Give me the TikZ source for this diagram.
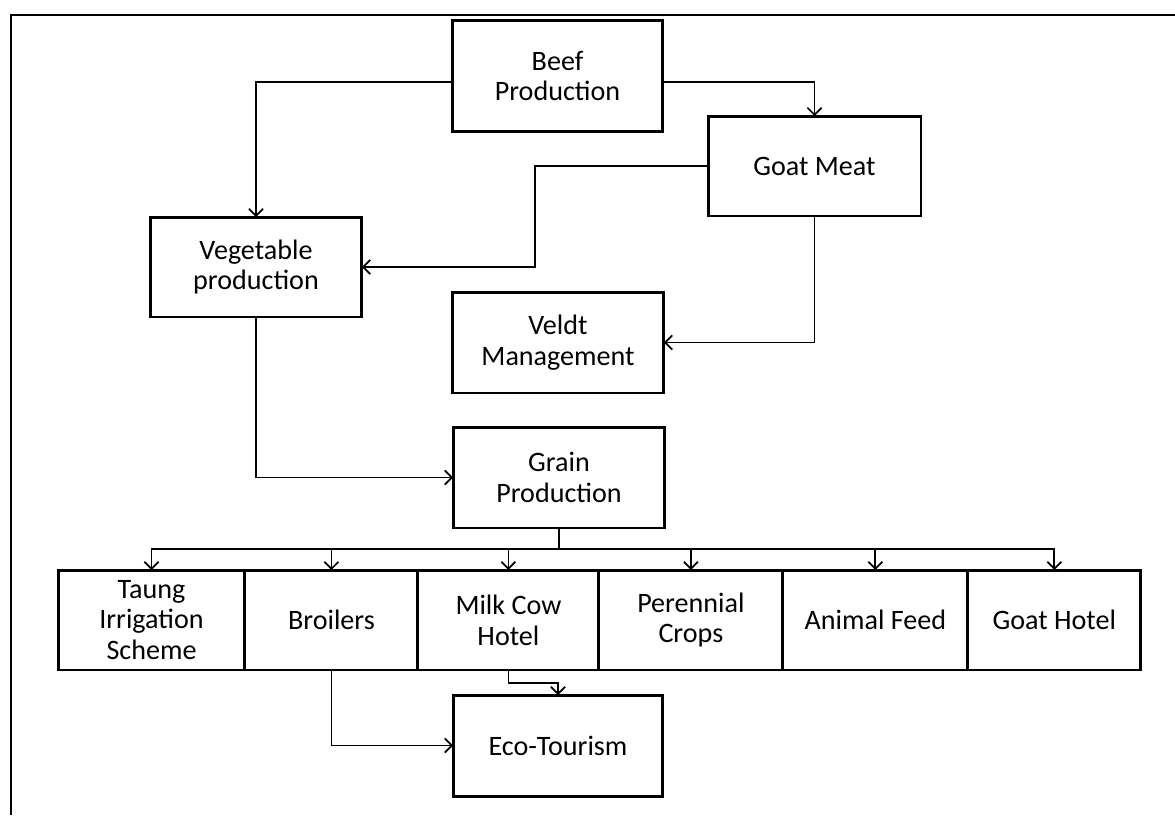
\documentclass[tikz,border=0pt]{standalone}
\usepackage{fontspec}
\setmainfont{Carlito}
\usepackage{tikz}
\usetikzlibrary{arrows.meta,positioning}

\tikzset{
  box/.style={draw, line width=1.7pt, align=center, inner sep=2pt, outer sep=0pt,
              minimum width=4.24cm, minimum height=2cm, font=\fontsize{16}{17.5}\selectfont},
  link/.style={line width=1pt, ->, >={Straight Barb[length=4pt,width=8pt]}}
}

\begin{document}
\begin{tikzpicture}[x=0.02cm, y=-0.02cm]
  \useasboundingbox (0,0) rectangle (1175,815);
  \draw[line width=1.2pt] (11,815) -- (11,15) -- (1175,15);   % marco

  % cajas de arriba
  \node[box, minimum width=4.22cm, minimum height=2.24cm] (beef) at (557.5,76) {Beef\\Production};
  \node[box, minimum width=4.26cm] (goat) at (814.5,166) {Goat Meat};
  \node[box] (veg) at (256,267) {Vegetable\\production};
  \node[box, minimum height=2.02cm] (veldt) at (558,342.5) {Veldt\\Management};
  \node[box, minimum height=2.02cm] (grain) at (559,477.5) {Grain\\Production};

  % fila de abajo
  \node[box, minimum width=3.74cm] (taung) at (151.5,620) {Taung\\Irrigation\\Scheme};
  \node[box, minimum width=3.46cm, right=0pt of taung] (broilers) {Broilers};
  \node[box, minimum width=3.62cm, right=0pt of broilers] (milk) {Milk Cow\\Hotel};
  \node[box, minimum width=3.68cm, right=0pt of milk] (perennial) {Perennial\\Crops};
  \node[box, minimum width=3.70cm, right=0pt of perennial] (feed) {Animal Feed};
  \node[box, minimum width=3.46cm, right=0pt of feed] (goathotel) {Goat Hotel};

  \node[box, minimum width=4.2cm, minimum height=2.02cm] (eco) at (558,745.5) {Eco-Tourism};

  % flechas
  \draw[link] ([yshift=-0.12cm]beef.east) -| (goat.north);
  \draw[link] ([yshift=-0.12cm]beef.west) -| (veg.north);
  \draw[link] (goat.west) -- ++(-173,0) |- (veg.east);
  \draw[link] (goat.south) |- (veldt.east);
  \draw[link] (veg.south) |- (grain.west);
  \draw[line width=1pt] (grain.south) -- ++(0,21) coordinate (bus);
  \foreach \n in {taung,broilers,milk,perennial,feed,goathotel}
      \draw[link] (bus) -| (\n.north);
  \draw[link] (broilers.south) |- (eco.west);
  \draw[link] (milk.south) -- ++(0,13) -| (eco.north);
\end{tikzpicture}
\end{document}
